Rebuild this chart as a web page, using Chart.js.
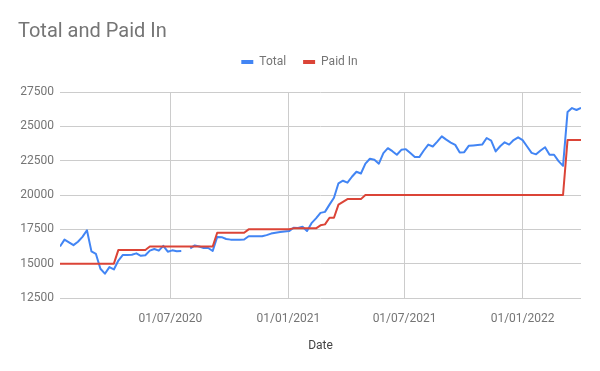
<!DOCTYPE html>
<html>
<head>
<meta charset="utf-8">
<script src="https://cdn.jsdelivr.net/npm/chart.js@4.4.1/dist/chart.umd.min.js"></script>
<style>
html,body{margin:0;padding:0;background:#fff;}
#wrap{width:600px;height:371px;}
canvas{display:block;}
</style>
</head>
<body>
<div id="wrap"><canvas id="c" width="600" height="371"></canvas></div>
<script>
// ---- data ----
const dates = [
 '2020-01-11','2020-01-18','2020-01-25','2020-02-01','2020-02-08','2020-02-15','2020-02-22','2020-02-29',
 '2020-03-07','2020-03-14','2020-03-21','2020-03-28','2020-04-04','2020-04-11','2020-04-18','2020-04-25',
 '2020-05-02','2020-05-09','2020-05-16','2020-05-23','2020-05-30','2020-06-06','2020-06-13','2020-06-20',
 '2020-06-27','2020-07-04','2020-07-11','2020-07-18','2020-07-25','2020-08-01','2020-08-08','2020-08-15',
 '2020-08-22','2020-08-29','2020-09-05','2020-09-12','2020-09-19','2020-09-26','2020-10-03','2020-10-10',
 '2020-10-17','2020-10-24','2020-10-31','2020-11-07','2020-11-14','2020-11-21','2020-11-28','2020-12-05',
 '2020-12-12','2020-12-19','2020-12-26',
 '2021-01-02','2021-01-09','2021-01-16','2021-01-23','2021-01-30','2021-02-06','2021-02-13','2021-02-20',
 '2021-02-27','2021-03-06','2021-03-13','2021-03-20','2021-03-27','2021-04-03','2021-04-10','2021-04-17',
 '2021-04-24','2021-05-01','2021-05-08','2021-05-15','2021-05-22','2021-05-29','2021-06-05','2021-06-12',
 '2021-06-19','2021-06-26','2021-07-03','2021-07-10','2021-07-17','2021-07-24','2021-07-31','2021-08-07',
 '2021-08-14','2021-08-21','2021-08-28','2021-09-04','2021-09-11','2021-09-18','2021-09-25','2021-10-02',
 '2021-10-09','2021-10-16','2021-10-23','2021-10-30','2021-11-06','2021-11-13','2021-11-20','2021-11-27',
 '2021-12-04','2021-12-11','2021-12-18','2021-12-25',
 '2022-01-01','2022-01-08','2022-01-15','2022-01-22','2022-01-29','2022-02-05','2022-02-12','2022-02-19',
 '2022-02-26','2022-03-05','2022-03-12','2022-03-19','2022-03-26','2022-04-02'
];

const totalValues = [
 16250,16750,16550,16350,16600,16950,17430,15895,15710,14630,
 14270,14750,14580,15230,15640,15640,15650,15750,15570,15610,
 15950,16070,15950,16300,15870,15970,15900,15920,null,16110,
 16330,16250,16140,16140,15920,16950,16930,16800,16750,16750,
 16750,16760,17000,17000,17000,16990,17080,17190,17250,17310,
 17350,17370,17620,17600,17690,17380,17950,18300,18700,18770,
 19300,19800,20850,21040,20900,21330,21690,21565,22280,22640,
 22570,22280,23050,23410,23190,22930,23290,23340,23050,22760,
 22760,23240,23670,23530,23890,24270,24030,23820,23650,23100,
 23120,23580,23610,23640,23670,24150,23960,23170,23550,23840,
 23670,24000,24200,24000,23530,23070,22960,23240,23480,22930,
 22930,22470,22120,26040,26330,26190,26350
];

const paidInValues = [
 15000,15000,15000,15000,15000,15000,15000,15000,15000,15000,
 15000,15000,15000,16000,16000,16000,16000,16000,16000,16000,
 16250,16250,16250,16250,16250,16250,16250,16250,16250,16250,
 16250,16250,16250,16250,16250,17250,17250,17250,17250,17250,
 17250,17250,17500,17500,17500,17500,17500,17500,17500,17500,
 17500,17500,17570,17570,17570,17570,17570,17570,17790,17860,
 18340,18340,19300,19500,19700,19700,19700,19700,20000,20000,
 20000,20000,20000,20000,20000,20000,20000,20000,20000,20000,
 20000,20000,20000,20000,20000,20000,20000,20000,20000,20000,
 20000,20000,20000,20000,20000,20000,20000,20000,20000,20000,
 20000,20000,20000,20000,20000,20000,20000,20000,20000,20000,
 20000,20000,20000,24000,24000,24000,24000
];

const xTickDates = ['2020-07-01','2021-01-01','2021-07-01','2022-01-01'];
const yTicks = [12500,15000,17500,20000,22500,25000,27500];

// ---- helpers ----
const DAY = 86400000;
const toDay = s => Date.UTC(+s.slice(0,4), +s.slice(5,7)-1, +s.slice(8,10)) / DAY;
const pad2 = n => (n < 10 ? '0' : '') + n;
const fmtDay = d => { const t = new Date(Math.round(d) * DAY); return pad2(t.getUTCDate()) + '/' + pad2(t.getUTCMonth()+1) + '/' + t.getUTCFullYear(); };

const xs = dates.map(toDay);
const totalPts = xs.map((x,i) => ({x, y: totalValues[i]}));
const paidPts = xs.map((x,i) => ({x, y: paidInValues[i]}));

const LABEL = '#757575';
const GRID = '#cccccc';

function draw(){
  new Chart(document.getElementById('c'), {
    type: 'line',
    data: {
      datasets: [
        {label:'Total', data: totalPts, borderColor:'#4285F4', backgroundColor:'#4285F4', borderWidth:2, pointRadius:0, tension:0, spanGaps:false, order:1, borderJoinStyle:'round'},
        {label:'Paid In', data: paidPts, borderColor:'#DB4437', backgroundColor:'#DB4437', borderWidth:2, pointRadius:0, tension:0, order:0, borderJoinStyle:'round'}
      ]
    },
    options: {
      responsive:false,
      animation:false,
      devicePixelRatio:1,
      layout:{padding:{left:18,right:19,top:0,bottom:0}},
      plugins:{
        title:{display:true, text:'Total and Paid In', align:'start', color:LABEL,
               font:{family:'Roboto', size:20, weight:'normal'}, padding:{top:20,bottom:-5}},
        legend:{position:'top', align:'center',
          labels:{boxWidth:12, boxHeight:4, padding:17, color:LABEL,
            font:{family:'Roboto', size:12},
            sort:(a,b)=>a.datasetIndex-b.datasetIndex,
            generateLabels: ch => Chart.defaults.plugins.legend.labels.generateLabels(ch)
              .map(l => Object.assign(l, {fillStyle:l.strokeStyle, lineWidth:0}))
          }},
        tooltip:{enabled:false}
      },
      scales:{
        x:{type:'linear', position:'bottom', min:xs[0], max:xs[xs.length-1],
           afterBuildTicks: s => { s.ticks = xTickDates.map(d => ({value: toDay(d)})); },
           ticks:{callback: v => fmtDay(v), color:LABEL, font:{family:'Roboto', size:12}, padding:14, maxRotation:0, autoSkip:false},
           grid:{color:GRID, lineWidth:1, drawTicks:false},
           border:{display:false},
           title:{display:true, text:'Date', color:'#444444', font:{family:'Roboto', size:12}, padding:{top:18,bottom:18}},
           afterFit: s => { s.height = 73; }
        },
        padTop:{type:'linear', position:'top', display:true,
           grid:{display:false}, ticks:{display:false}, border:{display:false},
           afterFit: s => { s.height = 14; }
        },
        y:{type:'linear', min:yTicks[0], max:yTicks[yTicks.length-1],
           afterBuildTicks: s => { s.ticks = yTicks.map(v => ({value:v})); },
           ticks:{callback: v => String(v), color:LABEL, font:{family:'Roboto', size:12}, padding:6},
           grid:{color:GRID, lineWidth:1, drawTicks:false},
           border:{display:false},
           afterFit: s => { s.width = 42; }
        }
      }
    }
  });
}

if (document.fonts && document.fonts.load) {
  Promise.all([document.fonts.load('20px Roboto'), document.fonts.load('12px Roboto')]).then(draw, draw);
} else { draw(); }
</script>
</body>
</html>
